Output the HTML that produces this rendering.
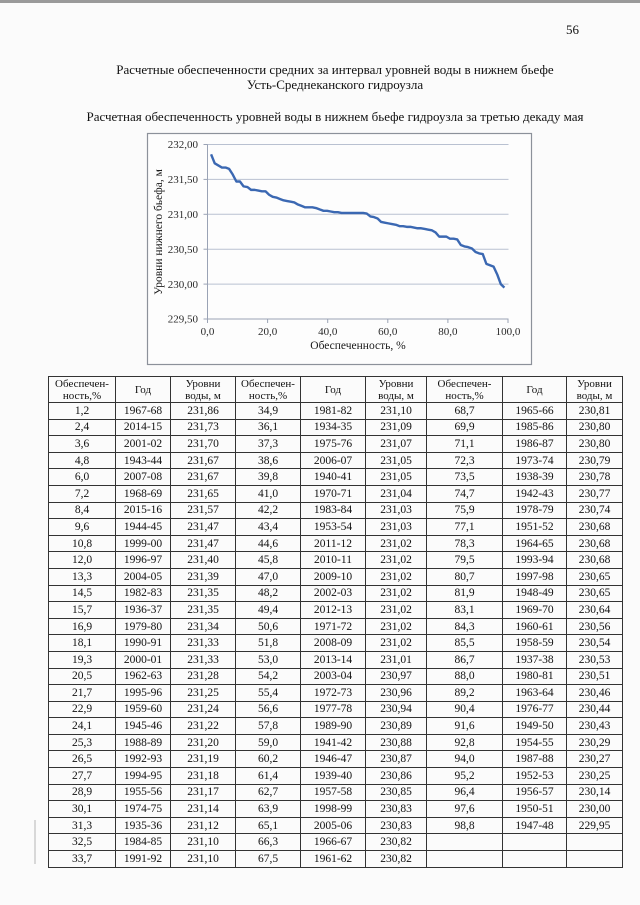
<!DOCTYPE html>
<html><head><meta charset="utf-8">
<style>
html,body{margin:0;padding:0;}
body{width:640px;height:905px;position:relative;background:#fbfbfb;overflow:hidden;font-family:"Liberation Serif","Noto Serif CJK SC",serif;color:#111;}
.t{position:absolute;white-space:nowrap;font-size:13px;line-height:15px;}
.c{transform:translateX(-50%);}
table{position:absolute;left:48px;top:376px;width:574px;border-collapse:collapse;table-layout:fixed;border:1px solid #222;font-size:11.5px;color:#111;}
td{border:1px solid #333;padding:0;text-align:center;vertical-align:middle;line-height:12px;height:15.6px;white-space:nowrap;}
tr.h td{height:25px;font-size:11px;}
</style></head><body>
<div style="position:absolute;left:0;top:0;width:640px;height:3px;background:#9a9a9a;"></div>
<div style="position:absolute;left:34px;top:820px;width:2px;height:44px;background:#d8d8d8;"></div>
<div class="t" style="left:566px;top:22px;">56</div>
<div class="t c" style="left:335px;top:62px;">Расчетные обеспеченности средних за интервал уровней воды в нижнем бьефе</div>
<div class="t c" style="left:335px;top:77px;">Усть-Среднеканского гидроузла</div>
<div class="t c" style="left:335px;top:109px;">Расчетная обеспеченность уровней воды в нижнем бьефе гидроузла за третью декаду мая</div>

<svg style="position:absolute;left:0;top:0" width="640" height="400" xmlns="http://www.w3.org/2000/svg">
<rect x="147.5" y="133.5" width="384" height="231" fill="#fdfdfd" stroke="#8c919a" stroke-width="1.2"/>
<g stroke="#b9c1d1" stroke-width="1">
<line x1="207.5" y1="144.5" x2="508.5" y2="144.5"/>
<line x1="207.5" y1="179.4" x2="508.5" y2="179.4"/>
<line x1="207.5" y1="214.3" x2="508.5" y2="214.3"/>
<line x1="207.5" y1="249.2" x2="508.5" y2="249.2"/>
<line x1="207.5" y1="284.1" x2="508.5" y2="284.1"/>
</g>
<g stroke="#9aa3b5" stroke-width="1">
<line x1="207.5" y1="144.5" x2="207.5" y2="319"/>
<line x1="207.5" y1="319" x2="508.5" y2="319"/>
<line x1="203.5" y1="144.5" x2="207.5" y2="144.5"/>
<line x1="203.5" y1="179.4" x2="207.5" y2="179.4"/>
<line x1="203.5" y1="214.3" x2="207.5" y2="214.3"/>
<line x1="203.5" y1="249.2" x2="207.5" y2="249.2"/>
<line x1="203.5" y1="284.1" x2="207.5" y2="284.1"/>
<line x1="203.5" y1="319" x2="207.5" y2="319"/>
<line x1="207.5" y1="319" x2="207.5" y2="323"/>
<line x1="267.6" y1="319" x2="267.6" y2="323"/>
<line x1="327.7" y1="319" x2="327.7" y2="323"/>
<line x1="387.8" y1="319" x2="387.8" y2="323"/>
<line x1="447.9" y1="319" x2="447.9" y2="323"/>
<line x1="508" y1="319" x2="508" y2="323"/>
</g>
<g font-family="Liberation Serif, serif" font-size="11" fill="#2a2a2a" text-anchor="end">
<text x="198" y="148">232,00</text>
<text x="198" y="183">231,50</text>
<text x="198" y="218">231,00</text>
<text x="198" y="253">230,50</text>
<text x="198" y="288">230,00</text>
<text x="198" y="322.5">229,50</text>
</g>
<g font-family="Liberation Serif, serif" font-size="11" fill="#2a2a2a" text-anchor="middle">
<text x="207.5" y="335">0,0</text>
<text x="267.6" y="335">20,0</text>
<text x="327.7" y="335">40,0</text>
<text x="387.8" y="335">60,0</text>
<text x="447.9" y="335">80,0</text>
<text x="508" y="335">100,0</text>
</g>
<text x="358" y="349" font-family="Liberation Serif, serif" font-size="11.5" fill="#1a1a1a" text-anchor="middle">Обеспеченность, %</text>
<text transform="translate(162,232) rotate(-90)" font-family="Liberation Serif, serif" font-size="11.5" fill="#1a1a1a" text-anchor="middle">Уровни нижнего бьефа, м</text>
<g transform="translate(207.5,144.5) scale(3.005,-69.8) translate(0,-232)">
<polyline fill="none" stroke="#3b68b2" stroke-width="2.4" stroke-linejoin="round" vector-effect="non-scaling-stroke" points="1.2,231.86 2.4,231.73 3.6,231.70 4.8,231.67 6.0,231.67 7.2,231.65 8.4,231.57 9.6,231.47 10.8,231.47 12.0,231.40 13.3,231.39 14.5,231.35 15.7,231.35 16.9,231.34 18.1,231.33 19.3,231.33 20.5,231.28 21.7,231.25 22.9,231.24 24.1,231.22 25.3,231.20 26.5,231.19 27.7,231.18 28.9,231.17 30.1,231.14 31.3,231.12 32.5,231.10 33.7,231.10 34.9,231.10 36.1,231.09 37.3,231.07 38.6,231.05 39.8,231.05 41.0,231.04 42.2,231.03 43.4,231.03 44.6,231.02 45.8,231.02 47.0,231.02 48.2,231.02 49.4,231.02 50.6,231.02 51.8,231.02 53.0,231.01 54.2,230.97 55.4,230.96 56.6,230.94 57.8,230.89 59.0,230.88 60.2,230.87 61.4,230.86 62.7,230.85 63.9,230.83 65.1,230.83 66.3,230.82 67.5,230.82 68.7,230.81 69.9,230.80 71.1,230.80 72.3,230.79 73.5,230.78 74.7,230.77 75.9,230.74 77.1,230.68 78.3,230.68 79.5,230.68 80.7,230.65 81.9,230.65 83.1,230.64 84.3,230.56 85.5,230.54 86.7,230.53 88.0,230.51 89.2,230.46 90.4,230.44 91.6,230.43 92.8,230.29 94.0,230.27 95.2,230.25 96.4,230.14 97.6,230.00 98.8,229.95"/>
</g>
</svg>

<table>
<colgroup><col style="width:67px"><col style="width:55px"><col style="width:65px"><col style="width:65px"><col style="width:65px"><col style="width:61px"><col style="width:76px"><col style="width:64px"><col style="width:56px"></colgroup>
<tr class="h"><td>Обеспечен-<br>ность,%</td><td>Год</td><td>Уровни<br>воды, м</td><td>Обеспечен-<br>ность,%</td><td>Год</td><td>Уровни<br>воды, м</td><td>Обеспечен-<br>ность,%</td><td>Год</td><td>Уровни<br>воды, м</td></tr>
<tr><td>1,2</td><td>1967-68</td><td>231,86</td><td>34,9</td><td>1981-82</td><td>231,10</td><td>68,7</td><td>1965-66</td><td>230,81</td></tr>
<tr><td>2,4</td><td>2014-15</td><td>231,73</td><td>36,1</td><td>1934-35</td><td>231,09</td><td>69,9</td><td>1985-86</td><td>230,80</td></tr>
<tr><td>3,6</td><td>2001-02</td><td>231,70</td><td>37,3</td><td>1975-76</td><td>231,07</td><td>71,1</td><td>1986-87</td><td>230,80</td></tr>
<tr><td>4,8</td><td>1943-44</td><td>231,67</td><td>38,6</td><td>2006-07</td><td>231,05</td><td>72,3</td><td>1973-74</td><td>230,79</td></tr>
<tr><td>6,0</td><td>2007-08</td><td>231,67</td><td>39,8</td><td>1940-41</td><td>231,05</td><td>73,5</td><td>1938-39</td><td>230,78</td></tr>
<tr><td>7,2</td><td>1968-69</td><td>231,65</td><td>41,0</td><td>1970-71</td><td>231,04</td><td>74,7</td><td>1942-43</td><td>230,77</td></tr>
<tr><td>8,4</td><td>2015-16</td><td>231,57</td><td>42,2</td><td>1983-84</td><td>231,03</td><td>75,9</td><td>1978-79</td><td>230,74</td></tr>
<tr><td>9,6</td><td>1944-45</td><td>231,47</td><td>43,4</td><td>1953-54</td><td>231,03</td><td>77,1</td><td>1951-52</td><td>230,68</td></tr>
<tr><td>10,8</td><td>1999-00</td><td>231,47</td><td>44,6</td><td>2011-12</td><td>231,02</td><td>78,3</td><td>1964-65</td><td>230,68</td></tr>
<tr><td>12,0</td><td>1996-97</td><td>231,40</td><td>45,8</td><td>2010-11</td><td>231,02</td><td>79,5</td><td>1993-94</td><td>230,68</td></tr>
<tr><td>13,3</td><td>2004-05</td><td>231,39</td><td>47,0</td><td>2009-10</td><td>231,02</td><td>80,7</td><td>1997-98</td><td>230,65</td></tr>
<tr><td>14,5</td><td>1982-83</td><td>231,35</td><td>48,2</td><td>2002-03</td><td>231,02</td><td>81,9</td><td>1948-49</td><td>230,65</td></tr>
<tr><td>15,7</td><td>1936-37</td><td>231,35</td><td>49,4</td><td>2012-13</td><td>231,02</td><td>83,1</td><td>1969-70</td><td>230,64</td></tr>
<tr><td>16,9</td><td>1979-80</td><td>231,34</td><td>50,6</td><td>1971-72</td><td>231,02</td><td>84,3</td><td>1960-61</td><td>230,56</td></tr>
<tr><td>18,1</td><td>1990-91</td><td>231,33</td><td>51,8</td><td>2008-09</td><td>231,02</td><td>85,5</td><td>1958-59</td><td>230,54</td></tr>
<tr><td>19,3</td><td>2000-01</td><td>231,33</td><td>53,0</td><td>2013-14</td><td>231,01</td><td>86,7</td><td>1937-38</td><td>230,53</td></tr>
<tr><td>20,5</td><td>1962-63</td><td>231,28</td><td>54,2</td><td>2003-04</td><td>230,97</td><td>88,0</td><td>1980-81</td><td>230,51</td></tr>
<tr><td>21,7</td><td>1995-96</td><td>231,25</td><td>55,4</td><td>1972-73</td><td>230,96</td><td>89,2</td><td>1963-64</td><td>230,46</td></tr>
<tr><td>22,9</td><td>1959-60</td><td>231,24</td><td>56,6</td><td>1977-78</td><td>230,94</td><td>90,4</td><td>1976-77</td><td>230,44</td></tr>
<tr><td>24,1</td><td>1945-46</td><td>231,22</td><td>57,8</td><td>1989-90</td><td>230,89</td><td>91,6</td><td>1949-50</td><td>230,43</td></tr>
<tr><td>25,3</td><td>1988-89</td><td>231,20</td><td>59,0</td><td>1941-42</td><td>230,88</td><td>92,8</td><td>1954-55</td><td>230,29</td></tr>
<tr><td>26,5</td><td>1992-93</td><td>231,19</td><td>60,2</td><td>1946-47</td><td>230,87</td><td>94,0</td><td>1987-88</td><td>230,27</td></tr>
<tr><td>27,7</td><td>1994-95</td><td>231,18</td><td>61,4</td><td>1939-40</td><td>230,86</td><td>95,2</td><td>1952-53</td><td>230,25</td></tr>
<tr><td>28,9</td><td>1955-56</td><td>231,17</td><td>62,7</td><td>1957-58</td><td>230,85</td><td>96,4</td><td>1956-57</td><td>230,14</td></tr>
<tr><td>30,1</td><td>1974-75</td><td>231,14</td><td>63,9</td><td>1998-99</td><td>230,83</td><td>97,6</td><td>1950-51</td><td>230,00</td></tr>
<tr><td>31,3</td><td>1935-36</td><td>231,12</td><td>65,1</td><td>2005-06</td><td>230,83</td><td>98,8</td><td>1947-48</td><td>229,95</td></tr>
<tr><td>32,5</td><td>1984-85</td><td>231,10</td><td>66,3</td><td>1966-67</td><td>230,82</td><td></td><td></td><td></td></tr>
<tr><td>33,7</td><td>1991-92</td><td>231,10</td><td>67,5</td><td>1961-62</td><td>230,82</td><td></td><td></td><td></td></tr>
</table>
</body></html>
